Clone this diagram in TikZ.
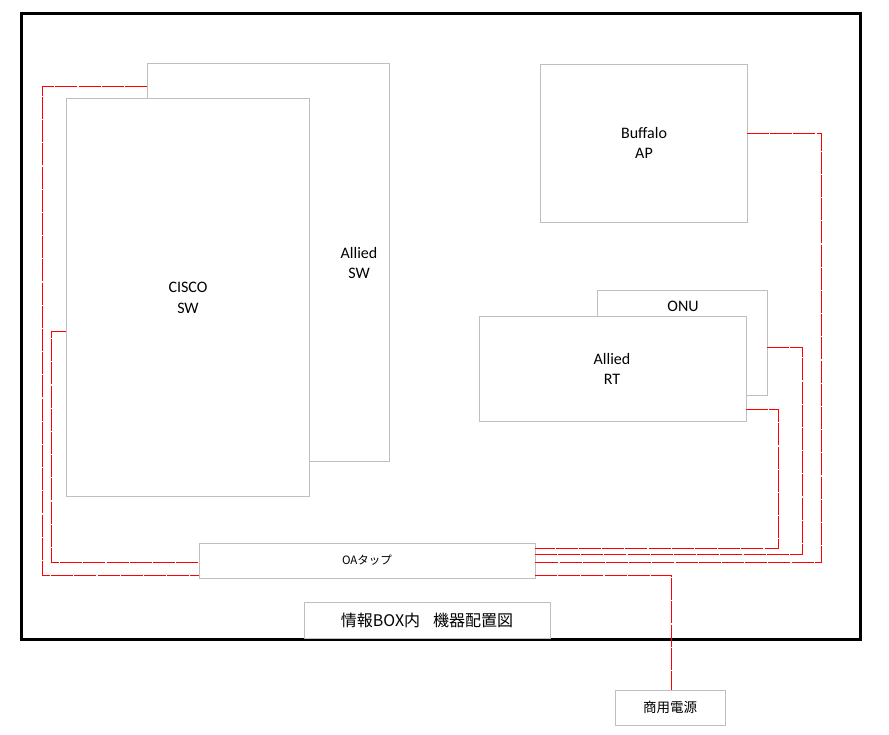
\documentclass[tikz,border=0pt]{standalone}
\usepackage{fontspec}
\setmainfont{Carlito}
\newfontfamily\jp{Noto Sans CJK JP}
\definecolor{boxgray}{HTML}{BFBFBF}
\definecolor{wirered}{HTML}{FF0000}
\begin{document}
\begin{tikzpicture}[x=1pt,y=-1pt,
  dev/.style={draw=boxgray,line width=1pt,fill=white,rectangle,inner sep=0pt,outer sep=0pt},
  devtext/.style={align=center,font=\fontsize{16}{20.5}\selectfont,inner sep=0pt},
  wire/.style={draw=wirered,line width=1pt},
  gapwire/.style={wire,dash pattern=on 22pt off 1.2pt},
  frame/.style={draw=black,line width=3.5pt}]
\useasboundingbox (0,0) rectangle (889,734);
% frame
\draw[frame] (21.5,13.5) rectangle (860.5,639.5);
% devices
\node[dev,minimum width=242pt,minimum height=398pt] (asw) at (268,262) {};
\node[devtext] (aswt) at (359,263) {Allied\\SW};
\node[dev,minimum width=243pt,minimum height=398pt] (cisco) at (187.5,297) {};
\node[devtext] (ciscot) at (188,298) {CISCO\\SW};
\node[dev,minimum width=207pt,minimum height=158pt] (buf) at (643.5,143) {};
\node[devtext] (buft) at (644,143) {Buffalo\\AP};
\node[dev,minimum width=170pt,minimum height=105pt] (onu) at (682,342.5) {};
\node[devtext] (onut) at (683,306) {ONU};
\node[dev,minimum width=267pt,minimum height=105pt] (rt) at (612.5,368.5) {};
\node[devtext] (rtt) at (612,369) {Allied\\RT};
\node[dev,minimum width=336pt,minimum height=35pt,font=\jp\fontsize{11.5}{14}\selectfont] (oa) at (367,560.5) {OAタップ};
\node[dev,minimum width=246pt,minimum height=36pt,font=\jp\fontsize{16}{18}\selectfont] (title) at (427,620) {情報BOX内\hspace{0.8em}機器配置図};
\node[dev,minimum width=110pt,minimum height=35pt,font=\jp\fontsize{13.5}{16}\selectfont] (pw) at (670,707.5) {商用電源};
% wires
\draw[gapwire] ([yshift=-23pt]asw.north west) -- (42,86) -- (42,575) -- ([yshift=3pt]oa.south west);
\draw[gapwire] ([yshift=-233pt]cisco.north west) -- (51,331) -- (51,562) -- ([yshift=-1.5pt]oa.west);
\draw[gapwire] ([yshift=-69pt]buf.north east) -- (821,133) -- (821,562) -- ([yshift=-1.5pt]oa.east);
\draw[gapwire] ([yshift=-4.5pt]onu.east) -- (802,347) -- (802,554) -- ([yshift=6.5pt]oa.east);
\draw[gapwire] ([yshift=-93pt]rt.north east) -- (778,409) -- (778,548) -- ([yshift=12.5pt]oa.east);
\draw[gapwire] ([yshift=3pt]oa.south east) -- (671,575) -- ([xshift=1pt]pw.north);
\end{tikzpicture}
\end{document}
